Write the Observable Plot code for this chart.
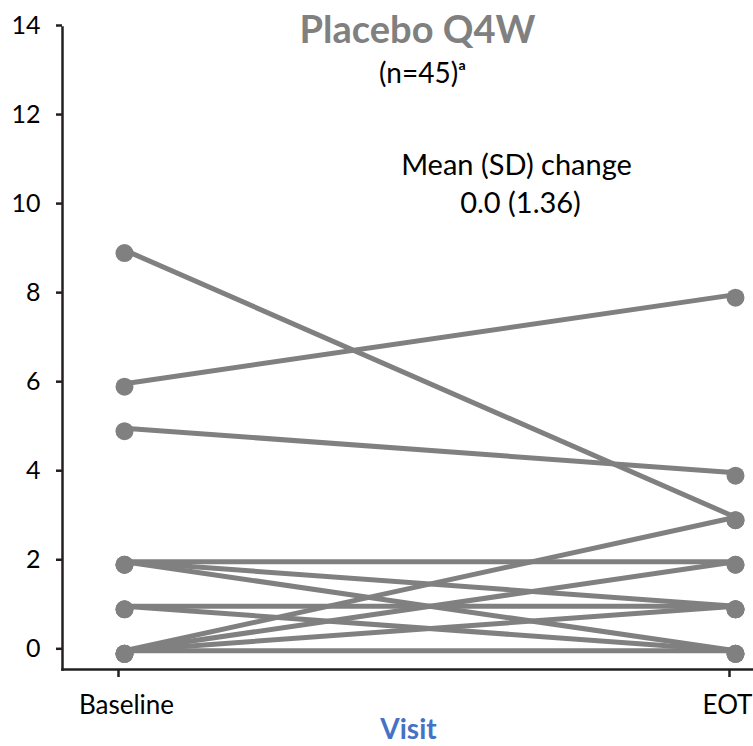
<!DOCTYPE html>
<html>
<head>
<meta charset="utf-8">
<script src="https://cdn.jsdelivr.net/npm/d3@7"></script>
<script src="https://cdn.jsdelivr.net/npm/@observablehq/plot@0.6"></script>
<style>
  html, body { margin: 0; padding: 0; background: #fff; }
  #chart svg { display: block; }
</style>
</head>
<body>
<div id="chart"></div>
<script>
// ---- data ----
const visits = ["Baseline", "EOT"];
const baselineValues = [9, 6, 5, 2, 2, 2, 1, 1, 0, 0, 0, 0];
const eotValues      = [3, 8, 4, 2, 1, 0, 1, 0, 3, 2, 1, 0];
const yTicks = [0, 2, 4, 6, 8, 10, 12, 14];
const titleText = "Placebo Q4W";
const nText = "(n=45)ᵃ";
const statLabel = "Mean (SD) change";
const statValue = "0.0 (1.36)";
const xLabel = "Visit";

// long table built from the arrays
const rows = [];
baselineValues.forEach((b, i) => {
  rows.push({id: i, visit: visits[0], value: b});
  rows.push({id: i, visit: visits[1], value: eotValues[i]});
});

const grey = "#808080";
const axisColor = "#231f20";
const font = "Lato, 'Open Sans', sans-serif";

const chart = Plot.plot({
  width: 753,
  height: 746,
  marginLeft: 62,
  marginRight: 0,
  marginTop: 27,
  marginBottom: 77,
  style: {fontFamily: font, color: "#000", background: "#fff", overflow: "hidden"},
  x: {type: "point", domain: visits, range: [124, 735], padding: 0},
  y: {domain: [-0.42, 14]},
  marks: [
    Plot.frame({anchor: "left", stroke: axisColor, strokeWidth: 2.5}),
    Plot.frame({anchor: "bottom", stroke: axisColor, strokeWidth: 2.5}),
    Plot.axisY({ticks: yTicks, tickSize: 6, tickPadding: 16, fontSize: 25, stroke: axisColor, strokeWidth: 2.5, label: null, dy: -2}),
    Plot.axisX({tickSize: 8, text: null, stroke: axisColor, strokeWidth: 2.5, label: null, dx: -6}),
    Plot.axisX({ticks: [visits[0]], tickSize: 0, tickPadding: 26, fontSize: 26, label: null, dx: 2}),
    Plot.axisX({ticks: [visits[1]], tickSize: 0, tickPadding: 26, fontSize: 26, label: null, dx: -8}),
    Plot.line(rows, {x: "visit", y: "value", z: "id", stroke: grey, strokeWidth: 5}),
    Plot.dot(rows, {x: "visit", y: "value", r: 9, fill: grey, dy: 3}),
    Plot.text([titleText], {frameAnchor: "top-left", dx: 355, dy: -11, lineAnchor: "top", textAnchor: "middle", fontSize: 38, fontWeight: "bold", fill: grey}),
    Plot.text([nText], {frameAnchor: "top-left", dx: 360, dy: 36, lineAnchor: "top", textAnchor: "middle", fontSize: 28}),
    Plot.text([statLabel], {frameAnchor: "top-left", dx: 454, dy: 127, lineAnchor: "top", textAnchor: "middle", fontSize: 29}),
    Plot.text([statValue], {frameAnchor: "top-left", dx: 458, dy: 165, lineAnchor: "top", textAnchor: "middle", fontSize: 29}),
    Plot.text([xLabel], {frameAnchor: "top-left", dx: 346, dy: 692, lineAnchor: "top", textAnchor: "middle", fontSize: 28, fontWeight: "bold", fill: "#4472C4"})
  ]
});
document.getElementById("chart").appendChild(chart);
</script>
</body>
</html>
